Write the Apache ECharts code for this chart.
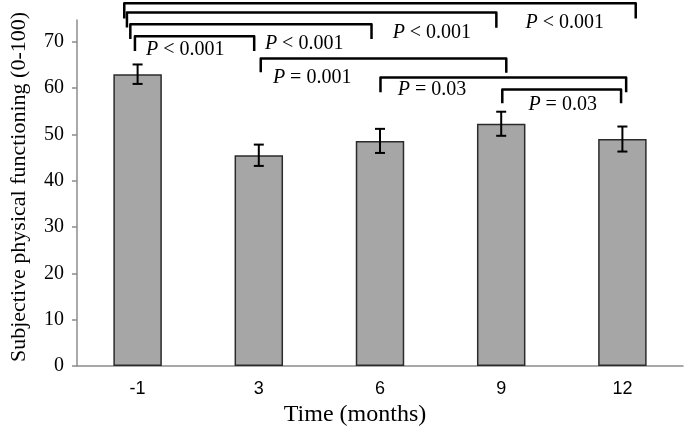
<!DOCTYPE html>
<html>
<head>
<meta charset="utf-8">
<script src="https://cdn.jsdelivr.net/npm/echarts@6/dist/echarts.min.js"></script>
<style>
  html, body { margin: 0; padding: 0; background: #fff; }
  #main { width: 685px; height: 434px; }
</style>
</head>
<body>
<div id="main"></div>
<script>
// chart data
var months = ['-1', '3', '6', '9', '12'];
var meanScore = [63.0, 45.5, 48.6, 52.3, 49.0];
var errScore = [2.1, 2.3, 2.6, 2.6, 2.7];
var yTicks = [0, 10, 20, 30, 40, 50, 60, 70];

// pairwise comparisons [from month index, to month index] and their p values
var compPairs = [[0, 4], [0, 3], [0, 2], [0, 1], [1, 3], [2, 4], [3, 4]];
var compLabels = ['P < 0.001', 'P < 0.001', 'P < 0.001', 'P < 0.001', 'P = 0.001', 'P = 0.03', 'P = 0.03'];

// where each bracket sits (heights in axis units, x shifts as fraction of a band)
var bracketLayout = [
    { top: 78.3, legL: 75.0, legR: 75.0, dxL: -0.11, dxR: 0.11, labCat: 4, labDx: -0.475, labY: 74.2 },
    { top: 76.3, legL: 73.1, legR: 73.0, dxL: -0.088, dxR: -0.04, labCat: 2, labDx: 0.428, labY: 71.9 },
    { top: 73.8, legL: 70.6, legR: 70.6, dxL: -0.06, dxR: -0.07, labCat: 1, labDx: 0.374, labY: 69.5 },
    { top: 71.2, legL: 68.0, legR: 68.0, dxL: -0.022, dxR: -0.038, labCat: 0, labDx: 0.394, labY: 68.2 },
    { top: 66.4, legL: 63.4, legR: 63.3, dxL: 0.016, dxR: 0.042, labCat: 1, labDx: 0.44, labY: 62.2 },
    { top: 62.3, legL: 59.1, legR: 59.1, dxL: 0.004, dxR: 0.031, labCat: 2, labDx: 0.43, labY: 59.6 },
    { top: 59.7, legL: 56.7, legR: 56.7, dxL: 0.009, dxR: -0.011, labCat: 3, labDx: 0.507, labY: 56.4 }
];

var serif = 'Liberation Serif';
var sans = 'Liberation Sans';
var axisGray = '#8c8c8c';

var chartDom = document.getElementById('main');
var myChart = echarts.init(chartDom);

function renderErr(params, api) {
    var x = api.value(0);
    var m = api.value(1);
    var e = api.value(2);
    var hi = api.coord([x, m + e]);
    var lo = api.coord([x, m - e]);
    var cap = 5;
    var st = { stroke: '#000', lineWidth: 2 };
    return {
        type: 'group',
        children: [
            { type: 'line', shape: { x1: hi[0], y1: hi[1], x2: lo[0], y2: lo[1] }, style: st },
            { type: 'line', shape: { x1: hi[0] - cap, y1: hi[1], x2: hi[0] + cap, y2: hi[1] }, style: st },
            { type: 'line', shape: { x1: lo[0] - cap, y1: lo[1], x2: lo[0] + cap, y2: lo[1] }, style: st }
        ]
    };
}

function renderBracket(params, api) {
    var L = bracketLayout[params.dataIndex];
    var band = api.size([1, 0])[0];
    var from = api.value(0);
    var to = api.value(1);
    var a = api.coord([from, L.top]);
    var b = api.coord([to, L.top]);
    var x1 = a[0] + L.dxL * band;
    var x2 = b[0] + L.dxR * band;
    var yL = api.coord([from, L.legL])[1];
    var yR = api.coord([to, L.legR])[1];
    var lab = api.coord([L.labCat, L.labY]);
    var txt = compLabels[params.dataIndex];
    return {
        type: 'group',
        children: [
            {
                type: 'polyline',
                shape: { points: [[x1, yL], [x1, a[1]], [x2, a[1]], [x2, yR]] },
                style: { stroke: '#000', lineWidth: 2.5, fill: null, lineJoin: 'round' }
            },
            {
                type: 'text',
                x: lab[0] + L.labDx * band,
                y: lab[1],
                style: {
                    text: '{i|P}' + txt.slice(1),
                    align: 'center',
                    verticalAlign: 'middle',
                    fontFamily: serif,
                    fontSize: 20,
                    fill: '#000',
                    rich: {
                        i: { fontFamily: serif, fontSize: 20, fontStyle: 'italic', fill: '#000' }
                    }
                }
            }
        ]
    };
}

var option = {
    animation: false,
    backgroundColor: '#fff',
    grid: { left: 76, right: 2, top: 20, bottom: 68 },
    xAxis: {
        type: 'category',
        data: months,
        name: 'Time (months)',
        nameLocation: 'middle',
        nameGap: 35,
        nameTextStyle: { fontFamily: serif, fontSize: 24, color: '#000', padding: [0, 50, 0, 0] },
        axisLine: { lineStyle: { color: axisGray, width: 1.5 } },
        axisTick: { length: 5, lineStyle: { color: axisGray, width: 1.5 } },
        axisLabel: { fontFamily: sans, fontSize: 18, color: '#000', margin: 14 }
    },
    yAxis: {
        type: 'value',
        min: 0,
        max: 74.7,
        interval: 10,
        name: 'Subjective physical functioning (0-100)',
        nameLocation: 'middle',
        nameGap: 47,
        nameTextStyle: { fontFamily: serif, fontSize: 22, color: '#000', padding: [0, 0, 0, 12] },
        axisLine: { show: true, lineStyle: { color: axisGray, width: 1.5 } },
        axisTick: { show: true, length: 5, customValues: yTicks, lineStyle: { color: axisGray, width: 1.5 } },
        axisLabel: {
            fontFamily: serif, fontSize: 20, color: '#000', margin: 13,
            customValues: yTicks,
            formatter: function (v) { return v % 10 === 0 ? String(v) : ''; }
        },
        splitLine: { show: false }
    },
    series: [
        {
            type: 'bar',
            data: meanScore,
            barWidth: '40%',
            itemStyle: { color: '#a6a6a6', borderColor: '#2b2b2b', borderWidth: 1.5 }
        },
        {
            type: 'custom',
            renderItem: renderErr,
            data: meanScore.map(function (m, i) { return [i, m, errScore[i]]; }),
            z: 3
        },
        {
            type: 'custom',
            renderItem: renderBracket,
            data: compPairs.map(function (p) { return [p[0], p[1]]; }),
            clip: false,
            z: 4
        }
    ]
};

option && myChart.setOption(option);
</script>
</body>
</html>
